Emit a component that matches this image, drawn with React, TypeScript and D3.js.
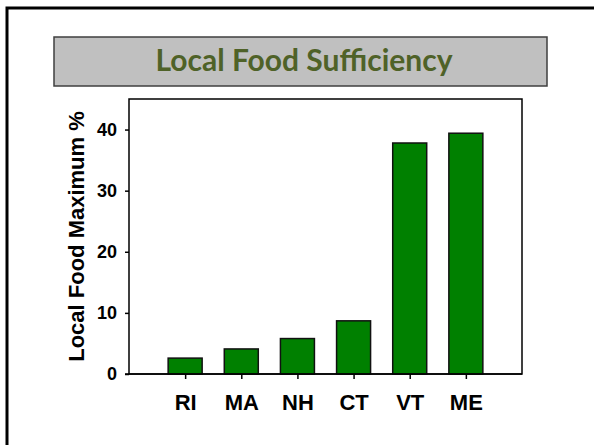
import React, { useRef, useEffect } from 'react';
import * as d3 from 'd3';

const states = ['RI', 'MA', 'NH', 'CT', 'VT', 'ME'];
const maxPercent = [2.6, 4.1, 5.8, 8.7, 37.8, 39.4];
const yTicks = [0, 10, 20, 30, 40];

const width = 594;
const height = 445;

const App: React.FC = () => {
  const svgRef = useRef<SVGSVGElement>(null);

  useEffect(() => {
    if (!svgRef.current) return;
    const svg = d3.select(svgRef.current);
    svg.selectAll('*').remove();

    const plot = { left: 129, right: 522, top: 99, bottom: 374 };

    // slide frame (left + top edges only)
    svg
      .append('path')
      .attr('d', `M7,${height} L7,8 L${width},8`)
      .attr('fill', 'none')
      .attr('stroke', '#000')
      .attr('stroke-width', 3);

    // title box
    svg
      .append('rect')
      .attr('x', 54)
      .attr('y', 37)
      .attr('width', 493)
      .attr('height', 49)
      .attr('fill', '#c0c0c0')
      .attr('stroke', '#3f3f3f')
      .attr('stroke-width', 1.5);

    svg
      .append('text')
      .attr('x', 304)
      .attr('y', 71)
      .attr('text-anchor', 'middle')
      .attr('font-family', 'Lato, "Open Sans", sans-serif')
      .attr('font-weight', 'bold')
      .attr('font-size', '30px')
      .attr('fill', '#4f6228')
      .text('Local Food Sufficiency');

    const xScale = d3
      .scalePoint()
      .domain(states)
      .range([plot.left, plot.right])
      .padding(1);

    const yScale = d3
      .scaleLinear()
      .domain([0, 45])
      .range([plot.bottom, plot.top]);

    const font = '"Liberation Sans", Arial, sans-serif';
    const barWidth = 34;

    // plot box
    svg
      .append('rect')
      .attr('x', plot.left)
      .attr('y', plot.top)
      .attr('width', plot.right - plot.left)
      .attr('height', plot.bottom - plot.top)
      .attr('fill', 'none')
      .attr('stroke', '#000')
      .attr('stroke-width', 1.5);

    // bars
    svg
      .selectAll('.bar')
      .data(states)
      .enter()
      .append('rect')
      .attr('class', 'bar')
      .attr('x', (d) => (xScale(d) || 0) - barWidth / 2)
      .attr('y', (d, i) => yScale(maxPercent[i]))
      .attr('width', barWidth)
      .attr('height', (d, i) => yScale(0) - yScale(maxPercent[i]))
      .attr('fill', '#008000')
      .attr('stroke', '#111')
      .attr('stroke-width', 1.5);

    // y axis
    const yAxis = svg
      .append('g')
      .attr('transform', `translate(${plot.left},0)`)
      .call(d3.axisLeft(yScale).tickValues(yTicks).tickSize(4).tickPadding(8).tickFormat(d3.format('d')));
    yAxis.select('.domain').remove();
    yAxis.selectAll('line').attr('stroke', '#000').attr('stroke-width', 1.5);
    yAxis
      .selectAll('text')
      .attr('font-family', font)
      .attr('font-weight', 'bold')
      .attr('font-size', '18px')
      .attr('fill', '#000');

    // x axis
    const xAxis = svg
      .append('g')
      .attr('transform', `translate(0,${plot.bottom})`)
      .call(d3.axisBottom(xScale).tickSize(5).tickPadding(15));
    xAxis.select('.domain').remove();
    xAxis.selectAll('line').attr('stroke', '#000').attr('stroke-width', 1.5);
    xAxis
      .selectAll('text')
      .attr('font-family', font)
      .attr('font-weight', 'bold')
      .attr('font-size', '22px')
      .attr('fill', '#000');

    // baseline extends slightly left of the y axis
    svg
      .append('line')
      .attr('x1', plot.left - 4)
      .attr('x2', plot.right)
      .attr('y1', plot.bottom)
      .attr('y2', plot.bottom)
      .attr('stroke', '#000')
      .attr('stroke-width', 1.5);

    // y axis title
    svg
      .append('text')
      .attr('transform', 'rotate(-90)')
      .attr('x', -(plot.top + plot.bottom) / 2)
      .attr('y', 84)
      .attr('text-anchor', 'middle')
      .attr('font-family', font)
      .attr('font-weight', 'bold')
      .attr('font-size', '22px')
      .attr('fill', '#000')
      .text('Local Food Maximum %');
  }, []);

  return (
    <div style={{ position: 'absolute', left: 0, top: 0 }}>
      <svg ref={svgRef} width={width} height={height} style={{ display: 'block', background: '#fff' }} />
    </div>
  );
};

export default App;
